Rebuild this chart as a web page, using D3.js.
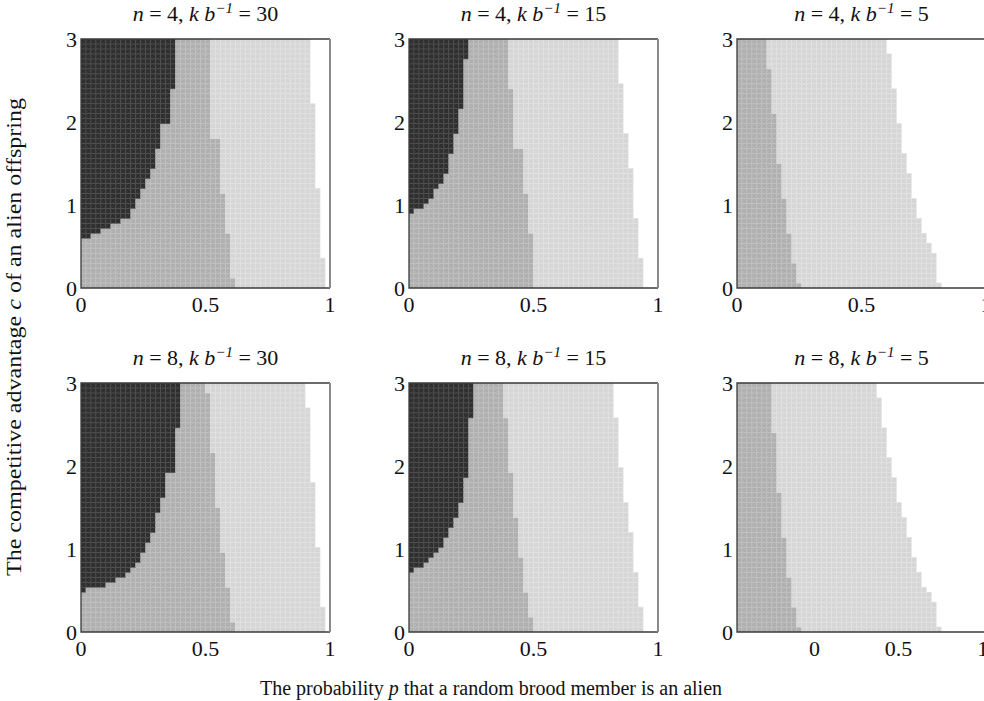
<!DOCTYPE html>
<html>
<head>
<meta charset="utf-8">
<script src="https://cdn.jsdelivr.net/npm/d3@7"></script>
<style>
  body { margin: 0; background: #fff; }
  svg { display: block; overflow: hidden; }
  text { font-family: "Liberation Serif", "Times New Roman", serif; fill: #111; }
</style>
</head>
<body>
<svg id="chart" width="984" height="701"></svg>
<script>
// panel parameters
const nValues = [4, 4, 4, 8, 8, 8];
const kValues = [30, 15, 5, 30, 15, 5];
const xTicks = [0, 0.5, 1];
const yTicks = [0, 1, 2, 3];
const pStep = 0.02;
const cStep = 0.06;

// region edges: [c from, p edge]
const dark_n4_k30 = [[0, 0], [0.60, 0.044], [0.66, 0.084], [0.72, 0.124], [0.78, 0.164], [0.86, 0.205], [0.96, 0.225], [1.06, 0.245], [1.19, 0.267], [1.31, 0.289], [1.47, 0.31], [1.71, 0.329], [1.97, 0.351], [2.39, 0.372]];
const mid_n4_k30 = [[0, 0.612], [0.12, 0.592], [0.64, 0.572], [1.16, 0.552], [1.81, 0.529], [2.51, 0.512]];
const light_n4_k30 = [[0, 0.98], [0.36, 0.957], [1.20, 0.94], [2.20, 0.92]];

const dark_n4_k15 = [[0, 0], [0.90, 0.024], [0.94, 0.044], [0.98, 0.064], [1.04, 0.084], [1.10, 0.104], [1.19, 0.124], [1.29, 0.144], [1.41, 0.164], [1.63, 0.184], [1.89, 0.205], [2.19, 0.225], [2.75, 0.245]];
const mid_n4_k15 = [[0, 0.509], [0.22, 0.492], [0.66, 0.472], [1.14, 0.452], [1.71, 0.429], [2.39, 0.409]];
const light_n4_k15 = [[0, 0.94], [0.36, 0.916], [0.84, 0.896], [1.43, 0.876], [1.89, 0.856], [2.45, 0.836]];

const dark_n4_k5 = [[0, 0]];
const mid_n4_k5 = [[0, 0.265], [0.06, 0.245], [0.30, 0.225], [0.66, 0.205], [1.08, 0.184], [1.53, 0.164], [2.08, 0.144], [2.63, 0.124]];
const light_n4_k5 = [[0, 0.813], [0.06, 0.793], [0.42, 0.773], [0.54, 0.753], [0.66, 0.733], [0.86, 0.713], [1.10, 0.692], [1.41, 0.672], [1.64, 0.652], [2.00, 0.632], [2.39, 0.612], [2.83, 0.592]];

const dark_n8_k30 = [[0, 0], [0.49, 0.021], [0.53, 0.064], [0.56, 0.104], [0.61, 0.144], [0.67, 0.184], [0.73, 0.205], [0.79, 0.225], [0.87, 0.245], [0.99, 0.267], [1.11, 0.289], [1.23, 0.309], [1.45, 0.329], [1.63, 0.348], [1.91, 0.372], [2.45, 0.392]];
const mid_n8_k30 = [[0, 0.612], [0.13, 0.592], [0.55, 0.572], [0.99, 0.552], [1.53, 0.532], [2.15, 0.512], [2.87, 0.492]];
const light_n8_k30 = [[0, 0.98], [0.31, 0.957], [1.03, 0.94], [1.79, 0.92], [2.69, 0.90]];

const dark_n8_k15 = [[0, 0], [0.74, 0.024], [0.79, 0.057], [0.85, 0.084], [0.91, 0.104], [0.99, 0.124], [1.05, 0.144], [1.17, 0.164], [1.29, 0.184], [1.41, 0.205], [1.59, 0.225], [1.89, 0.245], [2.57, 0.265]];
const mid_n8_k15 = [[0, 0.509], [0.19, 0.489], [0.47, 0.469], [0.91, 0.449], [1.39, 0.429], [1.95, 0.409], [2.57, 0.389]];
const light_n8_k15 = [[0, 0.94], [0.31, 0.916], [0.75, 0.896], [1.23, 0.876], [1.59, 0.856], [2.01, 0.836], [2.57, 0.816]];

const dark_n8_k5 = [[0, 0]];
const mid_n8_k5 = [[0, 0.265], [0.07, 0.245], [0.31, 0.225], [0.67, 0.205], [1.17, 0.184], [1.71, 0.164], [2.39, 0.144]];
const light_n8_k5 = [[0, 0.813], [0.07, 0.793], [0.37, 0.773], [0.47, 0.753], [0.55, 0.733], [0.75, 0.713], [0.91, 0.692], [1.15, 0.672], [1.35, 0.652], [1.59, 0.632], [1.89, 0.612], [2.13, 0.592], [2.45, 0.572], [2.81, 0.552]];

const darkEdges = [dark_n4_k30, dark_n4_k15, dark_n4_k5, dark_n8_k30, dark_n8_k15, dark_n8_k5];
const midEdges = [mid_n4_k30, mid_n4_k15, mid_n4_k5, mid_n8_k30, mid_n8_k15, mid_n8_k5];
const lightEdges = [light_n4_k30, light_n4_k15, light_n4_k5, light_n8_k30, light_n8_k15, light_n8_k5];

const svg = d3.select("#chart"),
  size = 249,
  lefts = [81, 409, 737],
  tops = [39, 383];

const fills = ["#2a2a2a", "#acacac", "#d3d3d3"];
const mesh = ["#505050", "#c2c2c2", "#e3e3e3"];
const hatch = ["#3e3e3e", "#bbbbbb", "#dfdfdf"];

const defs = svg.append("defs");
fills.forEach((f, i) => {
  const pat = defs
    .append("pattern")
    .attr("id", "pat" + i)
    .attr("patternUnits", "userSpaceOnUse")
    .attr("width", 2.5)
    .attr("height", 2.5)
    .attr("patternTransform", "rotate(45)");
  pat.append("rect").attr("width", 2.5).attr("height", 2.5).attr("fill", f);
  pat
    .append("line")
    .attr("x1", 0.5).attr("y1", 0).attr("x2", 0.5).attr("y2", 2.5)
    .attr("stroke", hatch[i])
    .attr("stroke-width", 0.7);
});

function edgeAt(edges, c) {
  let e = edges[0][1];
  edges.forEach(([c0, p]) => {
    if (c >= c0) e = p;
  });
  return e;
}

const pCells = d3.range(Math.round(1 / pStep)).map((i) => i * pStep);
const cCells = d3.range(Math.round(3 / cStep)).map((j) => j * cStep);

nValues.forEach((n, k) => {
  const col = k % 3,
    row = Math.floor(k / 3),
    x0 = lefts[col],
    y0 = tops[row];

  const x = d3.scaleLinear().domain([0, 1]).range([x0, x0 + size]);
  const y = d3.scaleLinear().domain([0, 3]).range([y0 + size, y0]);
  // the last panel's tick labels sit shifted in the original
  const xt = k === 5
    ? d3.scaleLinear().domain([-0.46, 1.02]).range([x0, x0 + size])
    : x;

  defs
    .append("clipPath")
    .attr("id", "clip" + k)
    .append("rect")
    .attr("x", x0).attr("y", y0).attr("width", size).attr("height", size);

  const cells = [];
  cCells.forEach((c) => {
    const cm = c + cStep / 2,
      d = edgeAt(darkEdges[k], cm),
      m = edgeAt(midEdges[k], cm),
      l = edgeAt(lightEdges[k], cm);
    pCells.forEach((p) => {
      const pm = p + pStep / 2;
      const cls = pm < d ? 0 : pm < m ? 1 : pm < l ? 2 : 3;
      if (cls < 3) cells.push({ p, c, cls });
    });
  });

  const g = svg.append("g").attr("clip-path", `url(#clip${k})`);
  g.selectAll("rect")
    .data(cells)
    .enter()
    .append("rect")
    .attr("x", (d) => x(d.p))
    .attr("y", (d) => y(d.c + cStep))
    .attr("width", (d) => x(d.p + pStep) - x(d.p))
    .attr("height", (d) => y(d.c) - y(d.c + cStep))
    .attr("fill", (d) => `url(#pat${d.cls})`)
    .attr("stroke", (d) => mesh[d.cls])
    .attr("stroke-width", 0.6);

  // frame
  svg
    .append("path")
    .attr("d", `M${x0 + size},${y0}H${x0}V${y0 + size}H${x0 + size}`)
    .attr("fill", "none")
    .attr("stroke", "#3a3a3a")
    .attr("stroke-width", 1.3);
  svg
    .append("line")
    .attr("x1", x0 + size).attr("x2", x0 + size)
    .attr("y1", y0).attr("y2", y0 + size)
    .attr("stroke", "#8a8a8a")
    .attr("stroke-width", 2);

  // y tick labels
  svg
    .append("g")
    .selectAll("text")
    .data(yTicks)
    .enter()
    .append("text")
    .attr("x", x0 - 4)
    .attr("y", (d) => y(d))
    .attr("dy", "0.35em")
    .attr("text-anchor", "end")
    .style("font-size", "22px")
    .text((d) => d);

  // x tick labels
  svg
    .append("g")
    .selectAll("text")
    .data(xTicks)
    .enter()
    .append("text")
    .attr("x", (d) => xt(d))
    .attr("y", y0 + size + 24)
    .attr("text-anchor", "middle")
    .style("font-size", "22px")
    .text((d) => d);

  // title
  const t = svg
    .append("text")
    .attr("x", x0 + size / 2)
    .attr("y", y0 - 18)
    .attr("text-anchor", "middle")
    .style("font-size", "22px");
  t.append("tspan").style("font-style", "italic").text("n");
  t.append("tspan").text(` = ${n}, `);
  t.append("tspan").style("font-style", "italic").text("k b");
  t.append("tspan")
    .style("font-style", "italic")
    .style("font-size", "15px")
    .attr("dy", "-8")
    .text("\u22121");
  t.append("tspan").attr("dy", "8").text(` = ${kValues[k]}`);
});

// axis titles
const yl = svg
  .append("text")
  .attr("transform", "translate(21,337) rotate(-90)")
  .attr("text-anchor", "middle")
  .attr("textLength", 478)
  .attr("lengthAdjust", "spacingAndGlyphs")
  .style("font-size", "20px");
yl.append("tspan").text("The competitive advantage ");
yl.append("tspan").style("font-style", "italic").text("c");
yl.append("tspan").text(" of an alien offspring");

const xl = svg
  .append("text")
  .attr("x", 491)
  .attr("y", 695)
  .attr("text-anchor", "middle")
  .style("font-size", "20px");
xl.append("tspan").text("The probability ");
xl.append("tspan").style("font-style", "italic").text("p");
xl.append("tspan").text(" that a random brood member is an alien");
</script>
</body>
</html>
